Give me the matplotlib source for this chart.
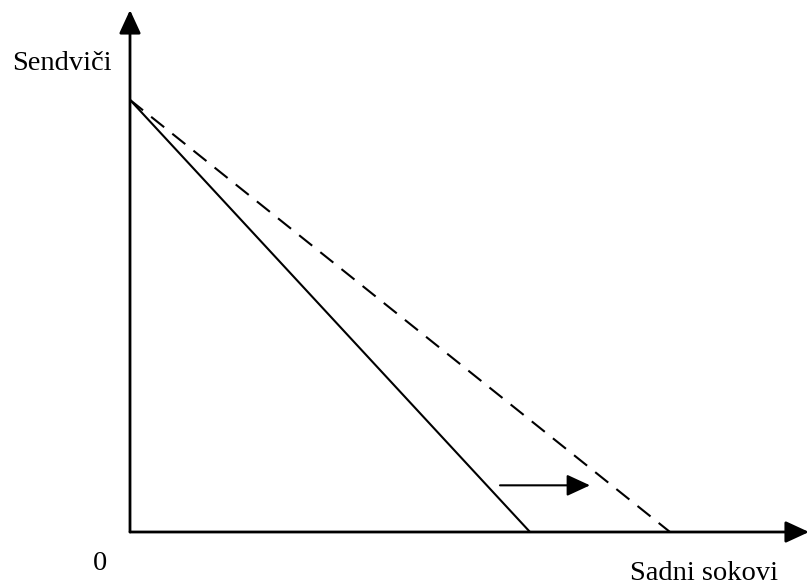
import matplotlib.pyplot as plt

# budget line intercepts (units of goods)
y_intercept = 10.0          # sendviči when all income goes on sandwiches
x_intercept_old = 10.0      # sadni sokovi, original budget line
x_intercept_new = 13.5      # sadni sokovi, after price of juice falls

# axis extents
x_max = 16.975
y_max = 12.08

# shift arrow (data units)
shift_y = 1.08
shift_x0, shift_x1 = 9.25, 11.5

plt.rcParams['font.family'] = ['Liberation Serif', 'DejaVu Serif']

fig = plt.figure(figsize=(8.09, 5.85), dpi=100)
ax = fig.add_axes([130 / 809, 53 / 585, 679 / 809, 522 / 585])
ax.set_xlim(0, x_max)
ax.set_ylim(0, y_max)
ax.axis('off')

# axes with arrow heads
head = dict(arrowstyle='-|>,head_length=0.65,head_width=0.3', color='black',
            mutation_scale=22, shrinkA=0, shrinkB=0)
ax.annotate('', xy=(1, 0), xytext=(0, 0), xycoords='axes fraction',
            arrowprops=dict(lw=2, **head), annotation_clip=False)
ax.annotate('', xy=(0, 1), xytext=(0, 0), xycoords='axes fraction',
            arrowprops=dict(lw=2, **head), annotation_clip=False)

# budget lines
ax.plot([0, x_intercept_old], [y_intercept, 0], color='black', lw=1.5)
ax.plot([0, x_intercept_new], [y_intercept, 0], color='black', lw=1.5,
        dashes=(8, 5))

# shift arrow
ax.annotate('', xy=(shift_x1, shift_y), xytext=(shift_x0, shift_y),
            arrowprops=dict(lw=1.5, **head))

fig.text(12 / 809, 1 - 63 / 585, 'Sendviči', fontsize=20.5, va='center', ha='left')
fig.text(100 / 809, 1 - 563 / 585, '0', fontsize=20.5, va='center', ha='center')
fig.text(630 / 809, 1 - 573 / 585, 'Sadni sokovi', fontsize=20.5, va='center', ha='left')

fig.savefig('out.png', dpi=100)
